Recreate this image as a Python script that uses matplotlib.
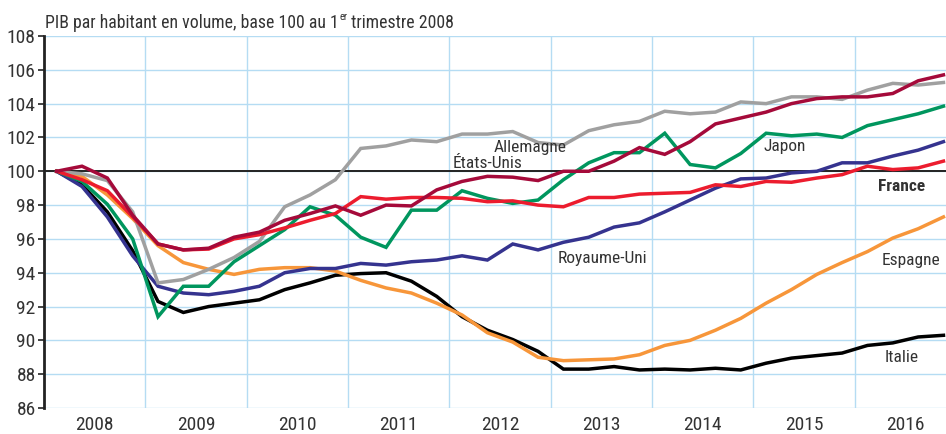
import matplotlib
matplotlib.use("Agg")
import matplotlib.pyplot as plt
from matplotlib import font_manager as fm

years = ["2008", "2009", "2010", "2011", "2012", "2013", "2014", "2015", "2016"]
y_ticks = [86, 88, 90, 92, 94, 96, 98, 100, 102, 104, 106, 108]

etats_unis = [100, 100.3, 99.6, 97.4, 95.7, 95.35, 95.45, 96.1, 96.4, 97.1, 97.5, 97.95,
              97.4, 98.0, 97.95, 98.9, 99.4, 99.7, 99.65, 99.45, 100.0, 100.0, 100.6, 101.4,
              101.0, 101.75, 102.8, 103.15, 103.5, 104.0, 104.3, 104.4, 104.4, 104.6, 105.35, 105.7]
allemagne = [100, 99.85, 99.45, 97.6, 93.4, 93.6, 94.2, 94.9, 95.85, 97.9, 98.6, 99.5,
             101.35, 101.5, 101.85, 101.75, 102.2, 102.2, 102.35, 101.7, 101.55, 102.4, 102.75, 102.95,
             103.55, 103.4, 103.5, 104.1, 104.0, 104.4, 104.4, 104.25, 104.8, 105.2, 105.1, 105.25]
japon = [100, 99.4, 98.05, 96.0, 91.4, 93.2, 93.2, 94.65, 95.6, 96.55, 97.9, 97.4,
         96.1, 95.5, 97.7, 97.7, 98.85, 98.4, 98.1, 98.3, 99.5, 100.5, 101.1, 101.1,
         102.25, 100.4, 100.2, 101.05, 102.25, 102.1, 102.2, 102.0, 102.7, 103.05, 103.4, 103.85]
royaume_uni = [100, 99.1, 97.3, 95.0, 93.2, 92.8, 92.7, 92.9, 93.2, 94.0, 94.25, 94.25,
               94.55, 94.45, 94.65, 94.75, 95.0, 94.75, 95.7, 95.35, 95.8, 96.1, 96.7, 96.95,
               97.6, 98.3, 99.0, 99.55, 99.6, 99.9, 100.0, 100.5, 100.5, 100.9, 101.25, 101.75]
france = [100, 99.5, 98.85, 97.3, 95.7, 95.35, 95.4, 96.0, 96.25, 96.65, 97.1, 97.5,
          98.5, 98.35, 98.45, 98.45, 98.4, 98.2, 98.25, 98.0, 97.9, 98.45, 98.45, 98.65,
          98.7, 98.75, 99.2, 99.1, 99.4, 99.35, 99.6, 99.8, 100.3, 100.1, 100.2, 100.6]
espagne = [100, 99.7, 98.6, 97.2, 95.6, 94.6, 94.2, 93.9, 94.2, 94.3, 94.3, 94.1,
           93.55, 93.1, 92.8, 92.2, 91.5, 90.45, 89.9, 89.0, 88.8, 88.85, 88.9, 89.15,
           89.7, 90.0, 90.6, 91.3, 92.2, 93.0, 93.9, 94.6, 95.25, 96.05, 96.6, 97.3]
italie = [100, 99.2, 97.6, 95.3, 92.3, 91.65, 92.0, 92.2, 92.4, 93.0, 93.4, 93.85,
          93.95, 94.0, 93.5, 92.6, 91.4, 90.6, 90.05, 89.35, 88.3, 88.3, 88.45, 88.25,
          88.3, 88.25, 88.35, 88.25, 88.65, 88.95, 89.1, 89.25, 89.7, 89.85, 90.2, 90.3]


def pick_font(bold=False):
    want = "bold" if bold else "normal"
    prefs = ["Liberation Sans Narrow", "Roboto Condensed", "DejaVu Sans Condensed",
             "Open Sans Condensed", "Noto Sans Condensed", "Arial Narrow"]
    cands = []
    for f in fm.fontManager.ttflist:
        narrow = ("Narrow" in f.name or "Condensed" in f.name
                  or str(f.stretch) in ("condensed", "semi-condensed", "extra-condensed"))
        if not narrow or f.style != "normal":
            continue
        w = f.weight
        isbold = (w == "bold") or (isinstance(w, int) and w >= 600)
        if isbold != bold:
            continue
        if not bold and isinstance(w, int) and w < 350:
            continue
        cands.append(f)
    for p in prefs:
        for f in cands:
            if f.name == p:
                return fm.FontProperties(fname=f.fname), True
    if cands:
        return fm.FontProperties(fname=cands[0].fname), True
    return fm.FontProperties(family="Liberation Sans", weight=want), False


reg, cond_ok = pick_font(False)
bld, _ = pick_font(True)
scale = 1.0 if cond_ok else 0.9

TXT = "#333333"
GRID = "#b5dcf3"

fig = plt.figure(figsize=(9.46, 4.34), dpi=100)
ax = fig.add_axes([44 / 946, 26 / 434, 902 / 946, 372 / 434])

n = len(france)
xs = [i + 0.5 for i in range(n)]

series = [
    (italie, "#000000"),
    (espagne, "#f7963a"),
    (royaume_uni, "#35338f"),
    (allemagne, "#a0a0a0"),
    (japon, "#00965e"),
    (france, "#ec1c2e"),
    (etats_unis, "#a50a3a"),
]

ax.set_xlim(0, 35.6)
ax.set_ylim(86, 108)

for v in y_ticks:
    ax.axhline(v, color=GRID, lw=1.0, zorder=1)
for k in range(1, len(years)):
    ax.axvline(4 * k, color=GRID, lw=1.0, zorder=1)
ax.axhline(100, color="#222222", lw=1.4, zorder=2)

for data, col in series:
    ax.plot(xs, data, color=col, lw=2.5, zorder=3, solid_joinstyle="miter")


def fp(base, size):
    p = base.copy()
    p.set_size(size * scale)
    return p


ax.set_yticks(y_ticks)
ax.set_yticklabels([str(v) for v in y_ticks], color=TXT, fontproperties=fp(reg, 14))
ax.tick_params(axis="y", length=4, width=1.2, color="#222222", pad=2)
ax.set_xticks([4 * k + 2 for k in range(len(years))])
ax.set_xticklabels(years, color=TXT, fontproperties=fp(reg, 14))
ax.tick_params(axis="x", length=0, pad=6)

for s in ["top", "right", "bottom"]:
    ax.spines[s].set_visible(False)
ax.spines["left"].set_color("#222222")
ax.spines["left"].set_linewidth(2.0)

lab = dict(color=TXT, ha="center", va="center", zorder=4)
ax.text(19.2, 101.4, "Allemagne", fontproperties=fp(reg, 12.5), **lab)
ax.text(17.5, 100.45, "États-Unis", fontproperties=fp(reg, 12.5), **lab)
ax.text(29.25, 101.45, "Japon", fontproperties=fp(reg, 12.5), **lab)
ax.text(33.85, 99.12, "France", fontproperties=fp(bld, 12.5), **lab)
ax.text(22.05, 94.85, "Royaume-Uni", fontproperties=fp(reg, 12.5), **lab)
ax.text(34.2, 94.75, "Espagne", fontproperties=fp(reg, 12.5), **lab)
ax.text(33.85, 89.0, "Italie", fontproperties=fp(reg, 12.5), **lab)

tp = fp(reg, 12.8)
ty = 1 - 23 / 434
t1 = fig.text(45 / 946, ty, "PIB par habitant en volume, base 100 au 1",
              fontproperties=tp, color=TXT, ha="left", va="center")
fig.canvas.draw()
r = fig.canvas.get_renderer()
bb = t1.get_window_extent(r)
t2 = fig.text(bb.x1 / 946 + 0.0005, 1 - 17 / 434, "er",
              fontproperties=fp(reg, 7.5), color=TXT, ha="left", va="center")
bb2 = t2.get_window_extent(r)
fig.text(bb2.x1 / 946, ty, " trimestre 2008",
         fontproperties=tp, color=TXT, ha="left", va="center")

fig.savefig("out.png", dpi=100)
